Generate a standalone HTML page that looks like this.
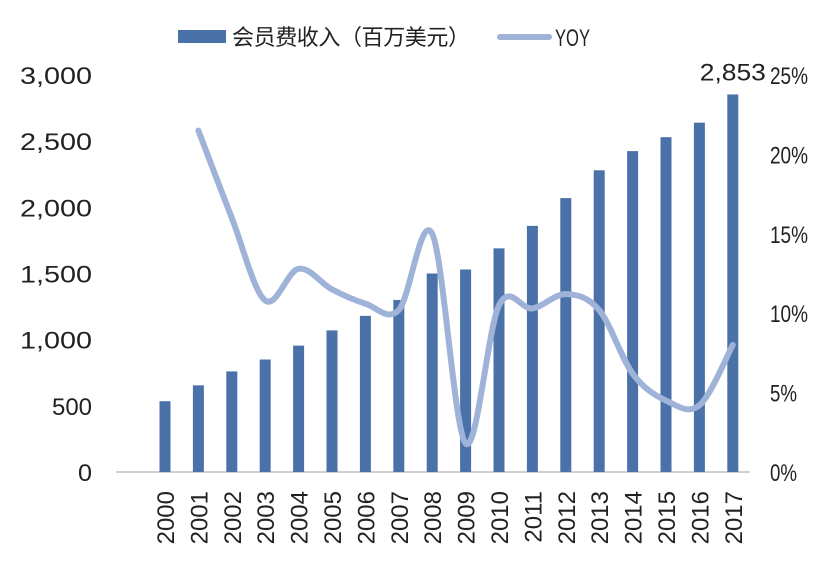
<!DOCTYPE html>
<html><head><meta charset="utf-8"><style>
body{margin:0;background:#fff;}
svg text{font-family:"Liberation Sans","Noto Sans CJK SC",sans-serif;fill:#222;}
</style></head><body>
<svg id="chart" width="828" height="565" viewBox="0 0 828 565" xmlns="http://www.w3.org/2000/svg">
<g>
<rect x="178" y="30" width="48" height="13" fill="#4a72a8"/>
<text x="232" y="45" font-size="22" textLength="238" style="font-family:'Noto Sans CJK SC',sans-serif">会员费收入（百万美元）</text>
<line x1="500" y1="37" x2="549" y2="37" stroke="#9fb3d8" stroke-width="6" stroke-linecap="round"/>
<text x="555" y="46" font-size="24" textLength="35" lengthAdjust="spacingAndGlyphs">YOY</text>
</g>
<g id="axes"></g>
<g id="bars"></g>
<g id="line"></g>
</svg>
<script>
const years=["2000","2001","2002","2003","2004","2005","2006","2007","2008","2009","2010","2011","2012","2013","2014","2015","2016","2017"];
const revenue=[535,655,760,850,955,1070,1180,1300,1500,1530,1690,1860,2070,2280,2425,2530,2640,2853];
const yoy=[null,21.5,16,10.8,12.8,11.5,10.6,10.2,15,1.8,10.5,10.3,11.2,10.2,6.2,4.5,4.2,8];
const leftTicks=[0,500,1000,1500,2000,2500,3000];
const leftTickLabels=["0","500","1,000","1,500","2,000","2,500","3,000"];
const rightTicks=[0,5,10,15,20,25];
const rightTickLabels=["0%","5%","10%","15%","20%","25%"];
const lastLabel="2,853";

const NS="http://www.w3.org/2000/svg";
const y0=472,yTop=75;
const yL=v=>y0-(v/3000)*(y0-yTop);
const yR=v=>y0-(v/25)*(y0-yTop);
const x=i=>165+i*33.4;
function mk(tag,attrs,parent){const e=document.createElementNS(NS,tag);for(const k in attrs)e.setAttribute(k,attrs[k]);parent.appendChild(e);return e;}
const axes=document.getElementById('axes'),bars=document.getElementById('bars'),lineG=document.getElementById('line');

let ax=mk('line',{x1:116,y1:y0,x2:750,y2:y0,stroke:'#d0d0d0','stroke-width':2},axes);



leftTicks.forEach((t,i)=>{
 const s=leftTickLabels[i];
 const w=s.length===1?14:(s.length===3?40:72);
 const e=mk('text',{x:92-w,y:yL(t)+9,'font-size':24,textLength:w,lengthAdjust:'spacingAndGlyphs'},axes);
 e.textContent=s;
 
 
});
rightTicks.forEach((t,i)=>{
 const s=rightTickLabels[i];
 const w=s.length===2?27:38;
 const e=mk('text',{x:770,y:yR(t)+9,'font-size':24,textLength:w,lengthAdjust:'spacingAndGlyphs'},axes);
 e.textContent=s;
 
 
});
years.forEach((yr,i)=>{
 const e=mk('text',{transform:`translate(${x(i)+9},491) rotate(-90)`,'text-anchor':'end','font-size':24},axes);
 e.textContent=yr;
 
 
});
revenue.forEach((v,i)=>{
 const r=mk('rect',{x:x(i)-5.5,y:yL(v),width:11,height:y0-yL(v),fill:'#4a72a8'},bars);
 
 
});
const lbl=mk('text',{x:x(revenue.length-1)-33,y:yL(revenue[revenue.length-1])-14,'font-size':24,textLength:66,lengthAdjust:'spacingAndGlyphs'},bars);
lbl.textContent=lastLabel;



const pts=[];yoy.forEach((v,i)=>{if(v!==null)pts.push([x(i),yR(v)]);});
let d=`M${pts[0][0]},${pts[0][1]}`;
for(let i=0;i<pts.length-1;i++){
 const p0=pts[i-1]||pts[i],p1=pts[i],p2=pts[i+1],p3=pts[i+2]||p2;
 const c1=[p1[0]+(p2[0]-p0[0])/6,p1[1]+(p2[1]-p0[1])/6];
 const c2=[p2[0]-(p3[0]-p1[0])/6,p2[1]-(p3[1]-p1[1])/6];
 d+=` C${c1[0]},${c1[1]} ${c2[0]},${c2[1]} ${p2[0]},${p2[1]}`;
}
const path=mk('path',{d:d,fill:'none',stroke:'#9fb3d8','stroke-width':6,'stroke-linecap':'round','stroke-linejoin':'round'},lineG);


</script>
</body></html>
